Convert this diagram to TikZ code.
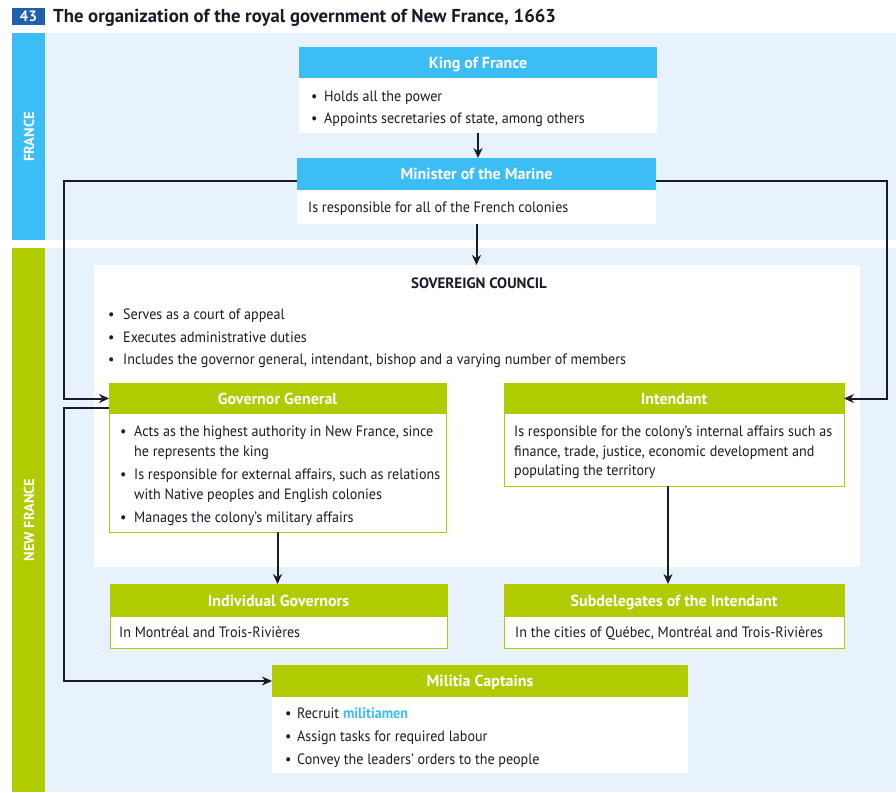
\documentclass[tikz,border=0pt]{standalone}
\usepackage{fontspec}
\setmainfont{PT Sans}[FakeStretch=0.94]
\newfontfamily\hfont{PT Sans}
\usetikzlibrary{arrows.meta}
\definecolor{hblue}{HTML}{3DBDF5}
\definecolor{hgreen}{HTML}{B0CB00}
\definecolor{bgblue}{HTML}{E8F2FC}
\definecolor{badge}{HTML}{1F5FAD}
\definecolor{ink}{HTML}{1A1A28}
\tikzset{
  box/.style={anchor=north west, inner sep=0pt, outer sep=0pt},
  hdrb/.style={box, fill=hblue, text=white, text height=13pt, text depth=2pt, font=\hfont\bfseries\fontsize{16}{18}\selectfont},
  hdrg/.style={box, fill=hgreen, text=white, text height=13pt, text depth=2pt, font=\hfont\bfseries\fontsize{16}{18}\selectfont},
  bodyw/.style={box, fill=white},
  bodyg/.style={box, fill=white, draw=hgreen, line width=1pt},
  txt/.style={anchor=base west, inner sep=0pt, text=ink, font=\fontsize{15}{17}\selectfont},
  arr/.style={draw=ink, line width=2pt, -{Stealth[length=10pt,width=9pt]}},
}
\begin{document}
\begin{tikzpicture}[x=1pt,y=-1pt]
\useasboundingbox (0,0) rectangle (896,792);
\fill[white] (0,0) rectangle (896,792);
% title
\node[box, fill=badge, text=white, minimum width=33pt, minimum height=17pt, font=\hfont\bfseries\fontsize{15}{17}\selectfont] (badge) at (12,8) {43};
\node[anchor=base west, inner sep=0pt, text=ink, font=\hfont\bfseries\fontsize{18.7}{20}\selectfont] (title) at (53,23) {The organization of the royal government of New France, 1663};
% backgrounds
\fill[bgblue] (12,33) rectangle (896,240);
\fill[bgblue] (12,248) rectangle (896,792);
\node[box, fill=hblue, minimum width=33pt, minimum height=207pt] (franceband) at (12,33) {};
\node[box, fill=hgreen, minimum width=33pt, minimum height=544pt] (nfband) at (12,248) {};
\node[rotate=90, text=white, font=\hfont\bfseries\fontsize{14.5}{16}\selectfont] (francelbl) at (29,137) {FRANCE};
\node[rotate=90, text=white, font=\hfont\bfseries\fontsize{14.5}{16}\selectfont] (nflbl) at (29,520) {NEW FRANCE};
% sovereign council panel
\node[box, fill=white, minimum width=766pt, minimum height=302pt] (sov) at (94,265) {};
\node[anchor=base, inner sep=0pt, text=ink, font=\hfont\bfseries\fontsize{15}{17}\selectfont] (sovt) at (479,288) {SOVEREIGN COUNCIL};
\node[txt] (sovb1) at (108,319) {•};
\node[txt] (sovs1) at (123,319) {Serves as a court of appeal};
\node[txt] (sovb2) at (108,342) {•};
\node[txt] (sovs2) at (123,342) {Executes administrative duties};
\node[txt] (sovb3) at (108,364) {•};
\node[txt] (sovs3) at (123,364) {Includes the governor general, intendant, bishop and a varying number of members};
% King
\node[bodyw, minimum width=358pt, minimum height=55pt] (kingb) at (299,78) {};
\node[hdrb, minimum width=358pt, minimum height=31pt] (kingh) at (299,47) {King of France};
\node[txt] (kb1) at (311,101) {•};
\node[txt] (ks1) at (324,101) {Holds all the power};
\node[txt] (kb2) at (311,123) {•};
\node[txt] (ks2) at (324,123) {Appoints secretaries of state, among others};
% Minister
\node[bodyw, minimum width=359pt, minimum height=34pt] (minb) at (297,190) {};
\node[hdrb, minimum width=359pt, minimum height=32pt] (minh) at (297,158) {Minister of the Marine};
\node[txt] (ms1) at (308,212) {Is responsible for all of the French colonies};
% Governor General
\node[bodyg, minimum width=337pt, minimum height=149pt] (ggb) at (109,383) {};
\node[hdrg, minimum width=337pt, minimum height=31pt] (ggh) at (109,383) {Governor General};
\node[txt] (gb1) at (120,436) {•};
\node[txt] (gs1) at (134,436) {Acts as the highest authority in New France, since};
\node[txt] (gs1b) at (134,456) {he represents the king};
\node[txt] (gb2) at (120,479) {•};
\node[txt] (gs2) at (134,479) {Is responsible for external affairs, such as relations};
\node[txt] (gs2b) at (134,499) {with Native peoples and English colonies};
\node[txt] (gb3) at (120,522) {•};
\node[txt] (gs3) at (134,522) {Manages the colony’s military affairs};
% Intendant
\node[bodyg, minimum width=340pt, minimum height=103pt] (intb) at (504,383) {};
\node[hdrg, minimum width=340pt, minimum height=31pt] (inth) at (504,383) {Intendant};
\node[txt] (is1) at (514,436) {Is responsible for the colony’s internal affairs such as};
\node[txt] (is2) at (514,456) {finance, trade, justice, economic development and};
\node[txt] (is3) at (514,475) {populating the territory};
% Individual Governors
\node[bodyg, minimum width=337pt, minimum height=64pt] (igb) at (110,584) {};
\node[hdrg, minimum width=337pt, minimum height=33pt] (igh) at (110,584) {Individual Governors};
\node[txt] (igs) at (119,637) {In Montréal and Trois-Rivières};
% Subdelegates
\node[bodyg, minimum width=340pt, minimum height=64pt] (subb) at (504,584) {};
\node[hdrg, minimum width=340pt, minimum height=33pt] (subh) at (504,584) {Subdelegates of the Intendant};
\node[txt] (sbs) at (515,637) {In the cities of Québec, Montréal and Trois-Rivières};
% Militia
\node[bodyw, minimum width=416pt, minimum height=76pt] (milb) at (272,697) {};
\node[hdrg, minimum width=416pt, minimum height=32pt] (milh) at (272,665) {Militia Captains};
\node[txt] (mb1) at (285,718) {•};
\node[txt] (msa) at (297,718) {Recruit \textcolor{hblue}{\bfseries militiamen}};
\node[txt] (mb2) at (285,741) {•};
\node[txt] (ms2) at (297,741) {Assign tasks for required labour};
\node[txt] (mb3) at (285,764) {•};
\node[txt] (ms3) at (297,764) {Convey the leaders’ orders to the people};
% connectors
\coordinate (L1) at (64,181);
\coordinate (R1) at (887,181);
\coordinate (L2) at (64,408);
\draw[arr] (kingb.south) -- (kingb.south |- minh.north);
\draw[arr] (minb.south) -- (minb.south |- sov.north);
\draw[arr] (minh.west |- L1) -- (L1) |- (ggh.west);
\draw[arr] (minh.east |- R1) -- (R1) |- (inth.east);
\draw[arr] (ggh.west |- L2) -- (L2) |- (milh.west);
\draw[arr] (ggb.south) -- (ggb.south |- igh.north);
\draw[arr] ([xshift=-6pt]intb.south) -- ([xshift=-6pt]intb.south |- subh.north);
\end{tikzpicture}
\end{document}
